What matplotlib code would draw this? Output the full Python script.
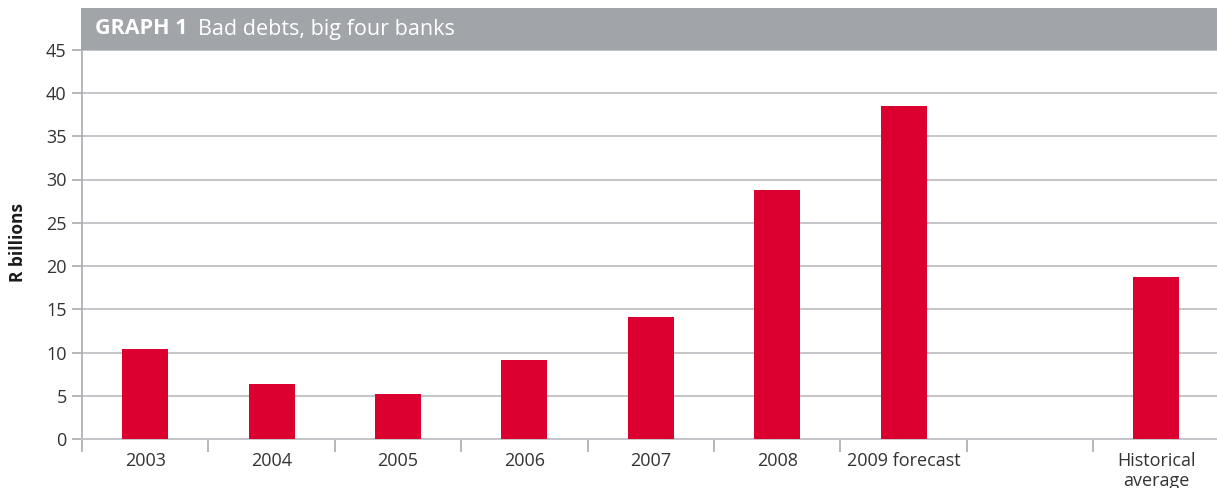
import matplotlib
matplotlib.use("Agg")
import matplotlib.pyplot as plt
from matplotlib.patches import Rectangle
import numpy as np

# Bad debts of the big four banks, R billions
categories = ["2003", "2004", "2005", "2006", "2007", "2008", "2009 forecast", "", "Historical\naverage"]
values = [10.4, 6.35, 5.2, 9.15, 14.1, 28.75, 38.45, np.nan, 18.7]
y_ticks = [0, 5, 10, 15, 20, 25, 30, 35, 40, 45]

plt.rcParams["font.family"] = ["Open Sans", "DejaVu Sans"]

W, H = 1217, 488
fig = plt.figure(figsize=(W / 100, H / 100), dpi=100)

ax_left = 82 / W
ax_bottom = (H - 439.3) / H
ax_width = 9 * 126.4 / W
ax_height = 389.7 / H
ax = fig.add_axes([ax_left, ax_bottom, ax_width, ax_height])

x = np.arange(len(categories))
bar_vals = [0 if np.isnan(v) else v for v in values]
ax.bar(x, bar_vals, width=0.365, color="#DC0030", zorder=3)

ax.set_xlim(-0.5, len(categories) - 0.5)
ax.set_ylim(0, 45)
ax.set_yticks(y_ticks)
ax.set_yticklabels([str(t) for t in y_ticks])
ax.yaxis.grid(True, color="#C4C5C9", linewidth=1.4, zorder=0)
ax.set_axisbelow(True)

ax.set_xticks(x)
ax.set_xticklabels(categories, linespacing=1.15)
ax.set_xticks(np.arange(-0.5, len(categories) - 0.5, 1.0), minor=True)
ax.tick_params(axis="x", which="major", length=0, pad=9, labelsize=13, labelcolor="#333333")
ax.tick_params(axis="x", which="minor", length=9, width=1.2, color="#A8ABB0", direction="out")
ax.tick_params(axis="y", length=7, width=1.2, color="#A8ABB0", pad=4, labelsize=13, labelcolor="#333333")

for side in ("top", "right"):
    ax.spines[side].set_visible(False)
ax.spines["left"].set_color("#A8ABB0")
ax.spines["left"].set_linewidth(1.2)
ax.spines["bottom"].set_color("#C4C5C9")
ax.spines["bottom"].set_linewidth(1.4)

fig.text(18 / W, (H - 243) / H, "R billions", rotation=90, ha="center", va="center",
         fontsize=12.5, fontweight="bold", color="#1a1a1a")

# Title banner above the plot area
bar_bottom = (H - 50) / H
banner = Rectangle((81 / W, bar_bottom), 1136 / W, 42 / H, transform=fig.transFigure,
                   facecolor="#A1A5A9", edgecolor="none", zorder=5)
fig.patches.append(banner)
ty = (H - 29) / H
t1 = fig.text(95 / W, ty, "GRAPH 1", color="white", fontsize=15.5, fontweight="bold",
              va="center", ha="left", zorder=6)
fig.canvas.draw()
bb = t1.get_window_extent()
fig.text(bb.x1 / W + 11 / W, ty, "Bad debts, big four banks", color="white", fontsize=15.5,
         va="center", ha="left", zorder=6)

fig.savefig("out.png", dpi=100)
